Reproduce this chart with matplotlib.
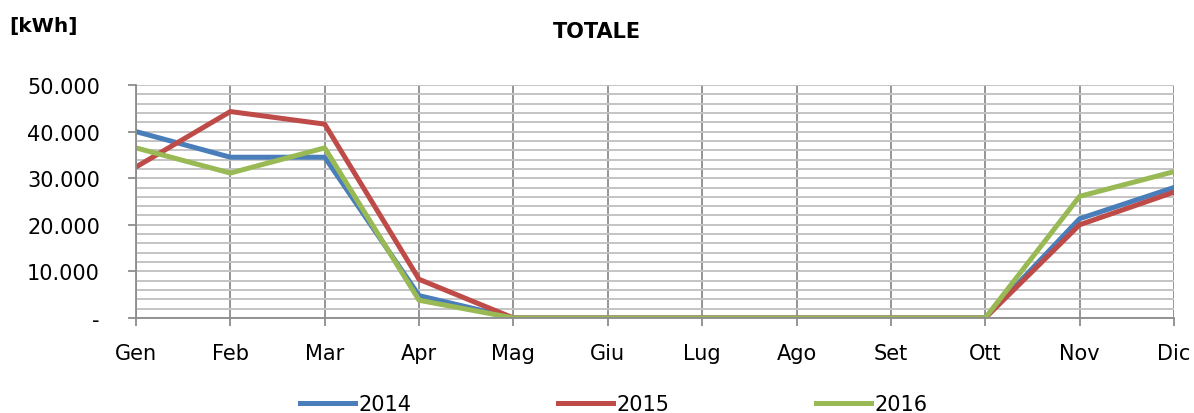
import numpy as np
import matplotlib.pyplot as plt
from matplotlib.ticker import MultipleLocator, FuncFormatter

months = ["Gen", "Feb", "Mar", "Apr", "Mag", "Giu", "Lug", "Ago", "Set", "Ott", "Nov", "Dic"]
y2014 = [40000, 34500, 34500, 4800, 0, 0, 0, 0, 0, 0, 21300, 28000]
y2015 = [32400, 44300, 41600, 8300, 0, 0, 0, 0, 0, 0, 20000, 27000]
y2016 = [36500, 31100, 36500, 3800, 0, 0, 0, 0, 0, 0, 26100, 31400]

plt.rcParams['font.family'] = ['DejaVu Sans']

fig = plt.figure(figsize=(11.94, 4.14), dpi=100)
ax = fig.add_axes([0.1139, 0.2295, 0.8693, 0.5628])

x = np.arange(len(months))
ax.plot(x, y2014, color="#4A7EBB", lw=3.6, label="2014")
ax.plot(x, y2015, color="#BE4B48", lw=3.6, label="2015")
ax.plot(x, y2016, color="#98B954", lw=3.6, label="2016")

ax.set_xlim(0, 11)
ax.set_ylim(0, 50000)
ax.set_xticks(x)
ax.set_xticklabels(months)
ax.yaxis.set_major_locator(MultipleLocator(10000))
ax.yaxis.set_minor_locator(MultipleLocator(2000))

def fmt(v, pos):
    if v == 0:
        return "-"
    return "{:,.0f}".format(v).replace(",", ".")

ax.yaxis.set_major_formatter(FuncFormatter(fmt))
ax.grid(which="major", axis="x", color="#8C8C8C", lw=1.3)
ax.grid(which="both", axis="y", color="#C4C4C4", lw=1.4)
ax.set_axisbelow(True)
for s in ["top", "right"]:
    ax.spines[s].set_visible(False)
for s in ["left", "bottom"]:
    ax.spines[s].set_color("#8C8C8C")
    ax.spines[s].set_linewidth(1.3)
ax.tick_params(axis="both", which="major", length=6, width=1.3, color="#8C8C8C", labelsize=15)
ax.tick_params(axis="y", which="major", pad=20)
ax.tick_params(axis="x", which="major", pad=12)
ax.tick_params(axis="y", which="minor", length=0)

fig.text(0.5, 0.923, "TOTALE", ha="center", va="center", fontsize=15, fontweight="bold")
fig.text(0.008, 0.935, "[kWh]", ha="left", va="center", fontsize=14.5, fontweight="bold")

fig.legend(loc="center", bbox_to_anchor=(0.514, 0.022), ncol=3, frameon=False,
           fontsize=15, handlelength=2.64, handletextpad=0.2, columnspacing=7.0)

fig.savefig("out.png", dpi=100)
